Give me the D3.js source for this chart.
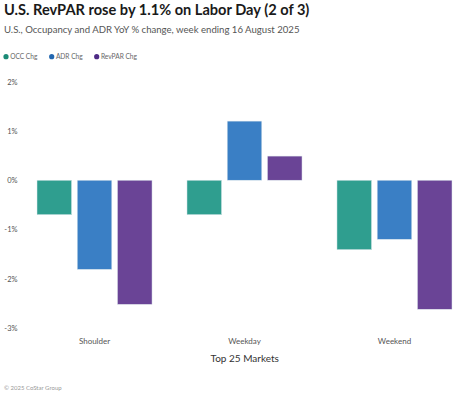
<!DOCTYPE html>
<html>
<head>
<meta charset="utf-8">
<script src="https://cdn.jsdelivr.net/npm/d3@7"></script>
<style>
	body { margin: 0; background: #fff; }
	text { font-family: Lato, "Open Sans", sans-serif; }
</style>
</head>
<body>
<div id="chart"></div>
<script>
var segments = ["Shoulder", "Weekday", "Weekend"];
var series = ["OCC Chg", "ADR Chg", "RevPAR Chg"];
var occChg = [-0.70, -0.70, -1.41];
var adrChg = [-1.81, 1.20, -1.20];
var revparChg = [-2.52, 0.49, -2.62];
var yTicks = [2, 1, 0, -1, -2, -3];

var barColors = ["#2f9e8f", "#3a7fc5", "#6a4496"];
var dotColors = ["#1b8a76", "#2367b0", "#4e2b86"];

var width = 465, height = 394;

var svg = d3.select("#chart")
	.append("svg")
	.attr("width", width)
	.attr("height", height);

var rows = segments.map(function(s, i) {
	return { seg: s, vals: [occChg[i], adrChg[i], revparChg[i]] };
});

var x0 = d3.scaleBand()
	.domain(segments)
	.range([37, 452])
	.paddingInner(0.233)
	.paddingOuter(0);

var x1 = d3.scaleBand()
	.domain(series)
	.range([0, x0.bandwidth()])
	.paddingInner(0.14)
	.paddingOuter(0);

var y = d3.scaleLinear()
	.domain([-3, 2])
	.range([328, 81.7]);

// title
svg.append("text")
	.attr("x", 4).attr("y", 15)
	.attr("font-size", 14.6)
	.attr("font-weight", "bold")
	.attr("fill", "#1a1a1a")
	.text("U.S. RevPAR rose by 1.1% on Labor Day (2 of 3)");

svg.append("text")
	.attr("x", 4).attr("y", 32.5)
	.attr("font-size", 9.6)
	.attr("fill", "#555")
	.text("U.S., Occupancy and ADR YoY % change, week ending 16 August 2025");

// legend
var legX = [6, 51.7, 96.7];
var leg = svg.selectAll(".leg")
	.data(series)
	.enter().append("g")
	.attr("class", "leg")
	.attr("transform", function(d, i) { return "translate(" + legX[i] + ",56.7)"; });
leg.append("circle")
	.attr("r", 2.6)
	.attr("fill", function(d, i) { return dotColors[i]; });
leg.append("text")
	.attr("x", 4.2).attr("y", 2.3)
	.attr("font-size", 6.6)
	.attr("fill", "#666")
	.text(function(d) { return d; });

// y axis
var yAxis = d3.axisLeft(y)
	.tickValues(yTicks)
	.tickSize(0)
	.tickPadding(0)
	.tickFormat(function(d) { return d + "%"; });

var ya = svg.append("g")
	.attr("transform", "translate(17.5,0)")
	.call(yAxis);
ya.select(".domain").remove();
ya.selectAll("text")
	.attr("font-size", 7.5)
	.attr("fill", "#555")
	.style("font-family", "Lato, 'Open Sans', sans-serif");

// bars
var groups = svg.selectAll(".grp")
	.data(rows)
	.enter().append("g")
	.attr("class", "grp")
	.attr("transform", function(d) { return "translate(" + x0(d.seg) + ",0)"; });

groups.selectAll("rect")
	.data(function(d) { return d.vals.map(function(v, i) { return { key: series[i], v: v, i: i }; }); })
	.enter().append("rect")
	.attr("x", function(d) { return x1(d.key); })
	.attr("width", x1.bandwidth())
	.attr("y", function(d) { return y(Math.max(0, d.v)); })
	.attr("height", function(d) { return Math.abs(y(d.v) - y(0)); })
	.attr("fill", function(d) { return barColors[d.i]; })
	.attr("stroke", "#dfe9ee")
	.attr("stroke-width", 0.5);

// x axis labels
var xAxis = d3.axisBottom(x0).tickSize(0).tickPadding(0);
var xa = svg.append("g")
	.attr("transform", "translate(0,338.5)")
	.call(xAxis);
xa.select(".domain").remove();
xa.selectAll("text")
	.attr("font-size", 8)
	.attr("fill", "#555")
	.style("font-family", "Lato, 'Open Sans', sans-serif");

svg.append("text")
	.attr("x", 244.7).attr("y", 361.5)
	.attr("text-anchor", "middle")
	.attr("font-size", 10)
	.attr("fill", "#333")
	.text("Top 25 Markets");

svg.append("text")
	.attr("x", 4).attr("y", 390)
	.attr("font-size", 6)
	.attr("fill", "#999")
	.text("© 2025 CoStar Group");
</script>
</body>
</html>
